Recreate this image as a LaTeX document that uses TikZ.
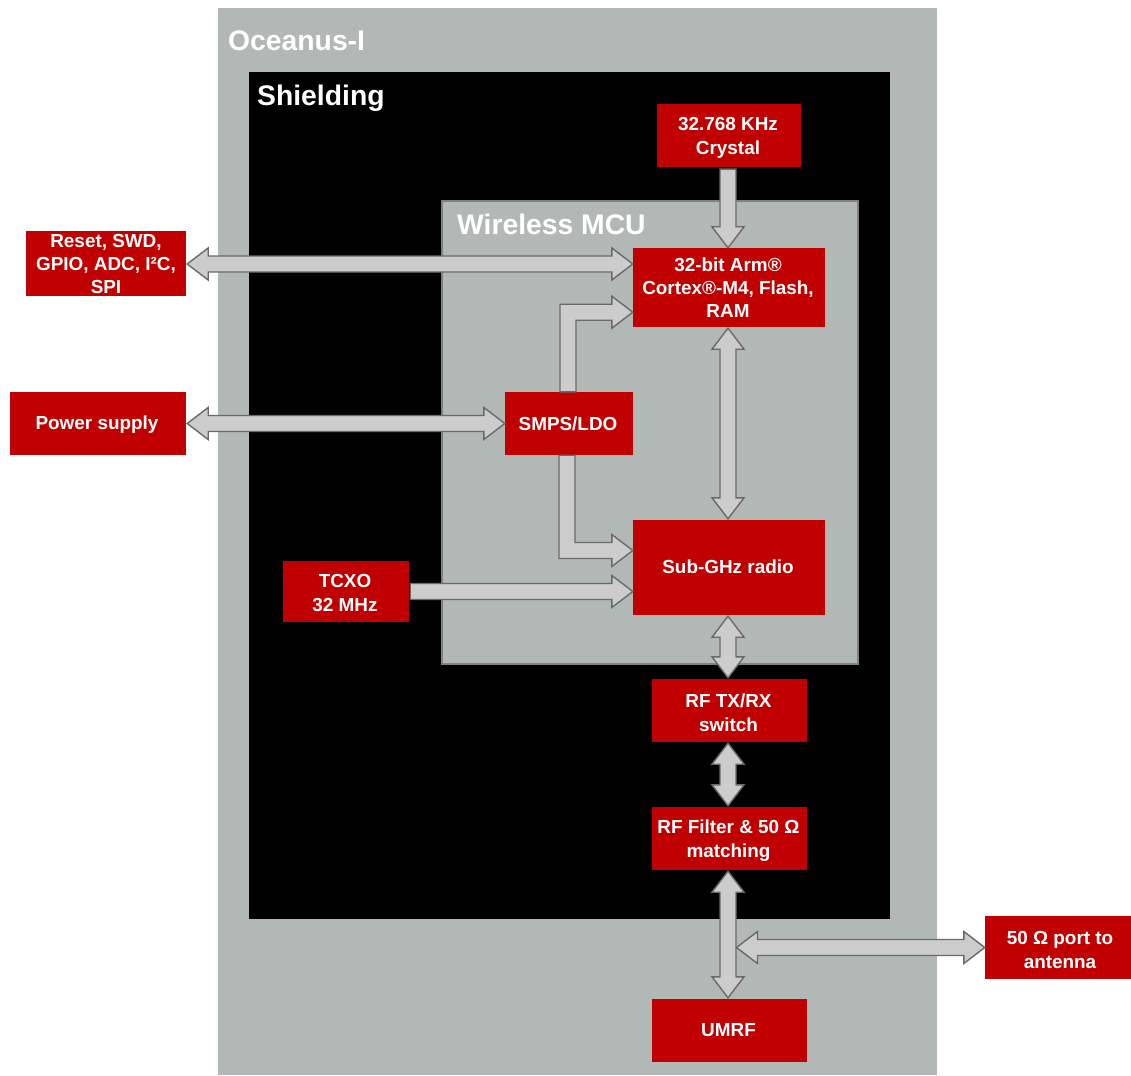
\documentclass[tikz,border=0pt]{standalone}
\usepackage{fontspec}
\setmainfont{Liberation Sans}
\usetikzlibrary{calc}
\definecolor{boxred}{HTML}{C00000}
\definecolor{ocgray}{HTML}{B2B8B5}
\definecolor{arrfill}{HTML}{CCCCCC}
\definecolor{arrline}{HTML}{6A6A6A}
\definecolor{mculine}{HTML}{808080}
\def\sw{8pt}
\def\hw{16pt}
\def\hl{21pt}
\begin{document}
\begin{tikzpicture}[x=1pt,y=-1pt,
  redbox/.style={fill=boxred, inner sep=0pt},
  boxtext/.style={text=white, font=\bfseries\fontsize{18.9}{24}\selectfont, align=center, inner sep=0pt},
  tighttext/.style={boxtext, font=\bfseries\fontsize{18.9}{23}\selectfont},
  blockarrow/.style={fill=arrfill, draw=arrline, line width=1.4pt, line join=miter},
  titletext/.style={text=white, font=\bfseries\fontsize{28.3}{32}\selectfont, anchor=base west, inner sep=0pt},
  area/.style={inner sep=0pt, anchor=north west}]

\useasboundingbox (0,0) rectangle (1131,1075);

% containers
\node[area, fill=ocgray, minimum width=719, minimum height=1067] (ocean) at (218,8) {};
\node[titletext] (oceantitle) at (228,51) {Oceanus-I};
\node[area, fill=black, minimum width=641, minimum height=847] (shield) at (249,72) {};
\node[titletext] (shieldtitle) at (257,106) {Shielding};
\node[area, fill=ocgray, draw=mculine, line width=2pt, minimum width=416, minimum height=463] (mcu) at (441,200) {};
\node[titletext] (mcutitle) at (457,234) {Wireless MCU};

% blocks
\node[redbox, minimum width=144, minimum height=63] (crystal) at (729,135.5) {};
\node[redbox, minimum width=192, minimum height=79] (arm) at (729,287.5) {};
\node[redbox, minimum width=160, minimum height=64] (reset) at (106,263.5) {};
\node[redbox, minimum width=176, minimum height=63] (power) at (98,423.5) {};
\node[redbox, minimum width=128, minimum height=63] (smps) at (569,423.5) {};
\node[redbox, minimum width=192, minimum height=95] (radio) at (729,567.5) {};
\node[redbox, minimum width=126, minimum height=61] (tcxo) at (346,591.5) {};
\node[redbox, minimum width=155, minimum height=63] (sw) at (729.5,710.5) {};
\node[redbox, minimum width=155, minimum height=63] (filt) at (729.5,838.5) {};
\node[redbox, minimum width=146, minimum height=63] (port) at (1058,947.5) {};
\node[redbox, minimum width=155, minimum height=63] (umrf) at (729.5,1030.5) {};

% block texts
\node[boxtext] (crystalt) at ($(crystal.center)+(-1,2.5)$) {32.768 KHz\\Crystal};
\node[tighttext] (armt) at ($(arm.center)+(-1,0.5)$) {32-bit Arm®\\Cortex®-M4, Flash,\\RAM};
\node[tighttext] (resett) at ($(reset.center)+(0,0)$) {Reset, SWD,\\GPIO, ADC, I²C,\\SPI};
\node[boxtext] (powert) at ($(power.center)+(-1,1)$) {Power supply};
\node[boxtext] (smpst) at ($(smps.center)+(-1,0)$) {SMPS/LDO};
\node[boxtext] (radiot) at ($(radio.center)+(-1,-1)$) {Sub-GHz radio};
\node[boxtext] (tcxot) at ($(tcxo.center)+(-1,2)$) {TCXO\\32 MHz};
\node[boxtext] (swt) at ($(sw.center)+(-1,2)$) {RF TX/RX\\switch};
\node[boxtext] (filtt) at ($(filt.center)+(-1,2)$) {RF Filter \& 50 Ω\\matching};
\node[boxtext] (portt) at ($(port.center)+(2,2)$) {50 Ω port to\\antenna};
\node[boxtext] (umrft) at ($(umrf.center)+(-1,0)$) {UMRF};

% crystal -> arm (single, down)
\path[blockarrow] let \p1=($(crystal.south)+(-1,2)$), \p2=(arm.north) in
  (\x1-\sw,\y1) -- (\x1+\sw,\y1) -- (\x1+\sw,\y2+\hl) -- (\x1+\hw,\y2+\hl) -- (\x1,\y2)
  -- (\x1-\hw,\y2+\hl) -- (\x1-\sw,\y2+\hl) -- cycle;

% reset <-> arm
\path[blockarrow] let \p1=($(reset.east)+(1,0.5)$), \p2=(arm.west) in
  (\x1,\y1) -- (\x1+\hl,\y1+\hw) -- (\x1+\hl,\y1+\sw) -- (\x2-\hl,\y1+\sw) -- (\x2-\hl,\y1+\hw)
  -- (\x2,\y1) -- (\x2-\hl,\y1-\hw) -- (\x2-\hl,\y1-\sw) -- (\x1+\hl,\y1-\sw) -- (\x1+\hl,\y1-\hw) -- cycle;

% power <-> smps
\path[blockarrow] let \p1=($(power.east)+(1,0)$), \p2=(smps.west) in
  (\x1,\y1) -- (\x1+\hl,\y1+\hw) -- (\x1+\hl,\y1+\sw) -- (\x2-\hl,\y1+\sw) -- (\x2-\hl,\y1+\hw)
  -- (\x2,\y1) -- (\x2-\hl,\y1-\hw) -- (\x2-\hl,\y1-\sw) -- (\x1+\hl,\y1-\sw) -- (\x1+\hl,\y1-\hw) -- cycle;

% smps -> arm (up then right)
\path[blockarrow] let \p1=($(smps.north)+(-1,0)$), \p2=($(arm.south west)+(0,-15)$) in
  (\x1-\sw,\y1) -- (\x1-\sw,\y2+\sw) -- (\x2-\hl,\y2+\sw) -- (\x2-\hl,\y2+\hw) -- (\x2,\y2)
  -- (\x2-\hl,\y2-\hw) -- (\x2-\hl,\y2-\sw) -- (\x1+\sw,\y2-\sw) -- (\x1+\sw,\y1) -- cycle;

% smps -> radio (down then right)
\path[blockarrow] let \p1=($(smps.south)+(-2,0)$), \p2=($(radio.west)+(0,-17)$) in
  (\x1-\sw,\y1) -- (\x1-\sw,\y2-\sw) -- (\x2-\hl,\y2-\sw) -- (\x2-\hl,\y2-\hw) -- (\x2,\y2)
  -- (\x2-\hl,\y2+\hw) -- (\x2-\hl,\y2+\sw) -- (\x1+\sw,\y2+\sw) -- (\x1+\sw,\y1) -- cycle;

% tcxo -> radio
\path[blockarrow] let \p1=($(tcxo.east)+(1,0)$), \p2=(radio.west) in
  (\x1,\y1+\sw) -- (\x2-\hl,\y1+\sw) -- (\x2-\hl,\y1+\hw) -- (\x2,\y1)
  -- (\x2-\hl,\y1-\hw) -- (\x2-\hl,\y1-\sw) -- (\x1,\y1-\sw) -- cycle;

% arm <-> radio
\path[blockarrow] let \p1=($(arm.south)+(-1,1)$), \p2=($(radio.north)+(0,-1)$) in
  (\x1,\y1) -- (\x1+\hw,\y1-\hl) -- (\x1+\sw,\y1-\hl) -- (\x1+\sw,\y2+\hl) -- (\x1+\hw,\y2+\hl)
  -- (\x1,\y2) -- (\x1-\hw,\y2+\hl) -- (\x1-\sw,\y2+\hl) -- (\x1-\sw,\y1-\hl) -- (\x1-\hw,\y1-\hl) -- cycle;

% radio <-> switch
\path[blockarrow] let \p1=($(radio.south)+(-1,1)$), \p2=($(sw.north)+(0,-1)$) in
  (\x1,\y1) -- (\x1+\hw,\y1-\hl) -- (\x1+\sw,\y1-\hl) -- (\x1+\sw,\y2+\hl) -- (\x1+\hw,\y2+\hl)
  -- (\x1,\y2) -- (\x1-\hw,\y2+\hl) -- (\x1-\sw,\y2+\hl) -- (\x1-\sw,\y1-\hl) -- (\x1-\hw,\y1-\hl) -- cycle;

% switch <-> filter
\path[blockarrow] let \p1=($(sw.south)+(-1.5,1)$), \p2=($(filt.north)+(0,-1)$) in
  (\x1,\y1) -- (\x1+\hw,\y1-\hl) -- (\x1+\sw,\y1-\hl) -- (\x1+\sw,\y2+\hl) -- (\x1+\hw,\y2+\hl)
  -- (\x1,\y2) -- (\x1-\hw,\y2+\hl) -- (\x1-\sw,\y2+\hl) -- (\x1-\sw,\y1-\hl) -- (\x1-\hw,\y1-\hl) -- cycle;

% filter <-> umrf
\path[blockarrow] let \p1=($(filt.south)+(-1.5,1)$), \p2=($(umrf.north)+(0,-1)$) in
  (\x1,\y1) -- (\x1+\hw,\y1-\hl) -- (\x1+\sw,\y1-\hl) -- (\x1+\sw,\y2+\hl) -- (\x1+\hw,\y2+\hl)
  -- (\x1,\y2) -- (\x1-\hw,\y2+\hl) -- (\x1-\sw,\y2+\hl) -- (\x1-\sw,\y1-\hl) -- (\x1-\hw,\y1-\hl) -- cycle;

% junction -> port
\coordinate (junc) at ($(filt.south |- port.west)+(7,0)$);
\path[blockarrow] let \p1=(junc), \p2=(port.west) in
  (\x1,\y1) -- (\x1+\hl,\y1+\hw) -- (\x1+\hl,\y1+\sw) -- (\x2-\hl,\y1+\sw) -- (\x2-\hl,\y1+\hw)
  -- (\x2,\y1) -- (\x2-\hl,\y1-\hw) -- (\x2-\hl,\y1-\sw) -- (\x1+\hl,\y1-\sw) -- (\x1+\hl,\y1-\hw) -- cycle;

\end{tikzpicture}
\end{document}
